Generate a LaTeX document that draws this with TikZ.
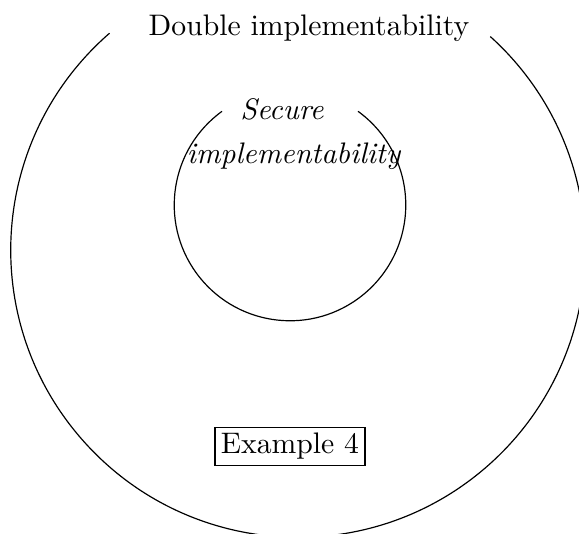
\documentclass[tikz,border=0pt]{standalone}
\usepackage{tikz}
\usetikzlibrary{positioning}

\begin{document}
\begin{tikzpicture}
      \useasboundingbox (-3.527,-3.349) rectangle (3.325,2.959);
      \draw (131:3.4) arc (131:408:3.4);
      \draw (-0.095,0.533) ++(126:1.37) arc (126:414:1.37);
      \node[anchor=base] (double) at (0.13,2.544) {Double implementability};
      \node[anchor=base] (secure) at (-0.189,1.55) {\textit{Secure}};
      \node[anchor=base] (secimpl) at (-0.047,1.03) {\textit{implementability}};
      \node[draw, inner sep=2pt] (example) at (-0.095,-2.325) {Example 4};
\end{tikzpicture}
\end{document}
